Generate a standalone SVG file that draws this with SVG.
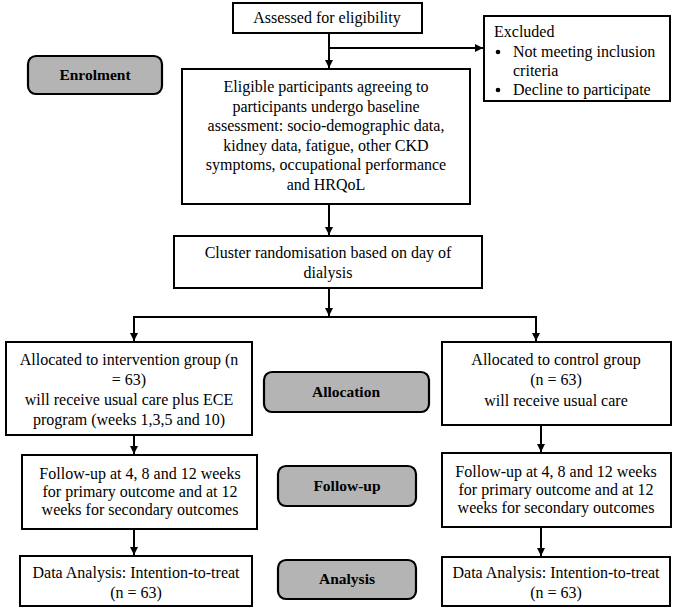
<svg xmlns="http://www.w3.org/2000/svg" width="688" height="608" viewBox="0 0 688 608">
<style>
.box{fill:#fff;stroke:#000;stroke-width:2}
.lbl{fill:#b4b4b4;stroke:#000;stroke-width:2.2}
text{font-family:"Liberation Serif","Times New Roman",serif;font-size:16px;fill:#000}
.c{text-anchor:middle}
.b{font-weight:bold;font-size:15.5px}
.ln{stroke:#000;stroke-width:2;fill:none}
</style>
<defs>
<marker id="ah" viewBox="0 0 10 10" refX="10" refY="5" markerWidth="8" markerHeight="8" markerUnits="userSpaceOnUse" orient="auto">
<path d="M0,0 L10,5 L0,10 z" fill="#000"/>
</marker>
</defs>
<rect width="688" height="608" fill="#fff"/>
<g id="connectors">
<path class="ln" d="M329,33 V68" marker-end="url(#ah)"/>
<path class="ln" d="M329,48 H483" marker-end="url(#ah)"/>
<path class="ln" d="M329,204 V235" marker-end="url(#ah)"/>
<path class="ln" d="M329,288 V316" marker-end="url(#ah)"/>
<path class="ln" d="M134,341 V317 H536 V341" marker-end="url(#ah)"/>
<path class="ln" d="M134,317 V341" marker-end="url(#ah)"/>
<path class="ln" d="M134,435 V454" marker-end="url(#ah)"/>
<path class="ln" d="M134,529 V555" marker-end="url(#ah)"/>
<path class="ln" d="M541,425 V452" marker-end="url(#ah)"/>
<path class="ln" d="M541,527 V556" marker-end="url(#ah)"/>
</g>
<g id="assessed">
<rect class="box" x="233" y="3" width="189" height="30"/>
<text class="c" x="327" y="23">Assessed for eligibility</text>
</g>
<g id="excluded">
<rect class="box" x="484" y="16" width="186" height="85"/>
<text x="494" y="37">Excluded</text>
<circle cx="498" cy="52" r="2.3"/>
<text x="513" y="57">Not meeting inclusion</text>
<text x="513" y="76">criteria</text>
<circle cx="498" cy="90" r="2.3"/>
<text x="513" y="95">Decline to participate</text>
</g>
<g id="enrolment">
<rect class="lbl" x="28" y="56" width="134" height="38" rx="8"/>
<text class="c b" x="95" y="80">Enrolment</text>
</g>
<g id="eligible">
<rect class="box" x="182" y="69" width="288" height="135"/>
<text class="c" x="326" y="92">Eligible participants agreeing to</text>
<text class="c" x="326" y="111.5">participants undergo baseline</text>
<text class="c" x="326" y="131">assessment: socio-demographic data,</text>
<text class="c" x="326" y="150.5">kidney data, fatigue, other CKD</text>
<text class="c" x="326" y="170">symptoms, occupational performance</text>
<text class="c" x="326" y="190">and HRQoL</text>
</g>
<g id="cluster">
<rect class="box" x="174" y="236" width="308" height="52"/>
<text class="c" x="328" y="258">Cluster randomisation based on day of</text>
<text class="c" x="328" y="278">dialysis</text>
</g>
<g id="alloc-int">
<rect class="box" x="6" y="342" width="246" height="93"/>
<text class="c" x="129" y="365">Allocated to intervention group (n</text>
<text class="c" x="129" y="385">= 63)</text>
<text class="c" x="129" y="405">will receive usual care plus ECE</text>
<text class="c" x="129" y="425">program (weeks 1,3,5 and 10)</text>
</g>
<g id="allocation">
<rect class="lbl" x="264" y="372" width="165" height="40" rx="8"/>
<text class="c b" x="346" y="397">Allocation</text>
</g>
<g id="alloc-ctrl">
<rect class="box" x="442" y="342" width="229" height="83"/>
<text class="c" x="556" y="365">Allocated to control group</text>
<text class="c" x="556" y="385">(n = 63)</text>
<text class="c" x="556" y="406">will receive usual care</text>
</g>
<g id="follow-int">
<rect class="box" x="22" y="455" width="235" height="74"/>
<text class="c" x="140" y="479">Follow-up at 4, 8 and 12 weeks</text>
<text class="c" x="140" y="497">for primary outcome and at 12</text>
<text class="c" x="140" y="515">weeks for secondary outcomes</text>
</g>
<g id="followup">
<rect class="lbl" x="278" y="466" width="138" height="40" rx="8"/>
<text class="c b" x="347" y="491">Follow-up</text>
</g>
<g id="follow-ctrl">
<rect class="box" x="442" y="453" width="229" height="74"/>
<text class="c" x="556" y="477">Follow-up at 4, 8 and 12 weeks</text>
<text class="c" x="556" y="495">for primary outcome and at 12</text>
<text class="c" x="556" y="513">weeks for secondary outcomes</text>
</g>
<g id="analysis-int">
<rect class="box" x="20" y="556" width="232" height="50"/>
<text class="c" x="136" y="578">Data Analysis: Intention-to-treat</text>
<text class="c" x="136" y="598">(n = 63)</text>
</g>
<g id="analysis">
<rect class="lbl" x="278" y="560" width="138" height="39" rx="8"/>
<text class="c b" x="347" y="584">Analysis</text>
</g>
<g id="analysis-ctrl">
<rect class="box" x="442" y="557" width="228" height="49"/>
<text class="c" x="556" y="578">Data Analysis: Intention-to-treat</text>
<text class="c" x="556" y="598">(n = 63)</text>
</g>
</svg>
